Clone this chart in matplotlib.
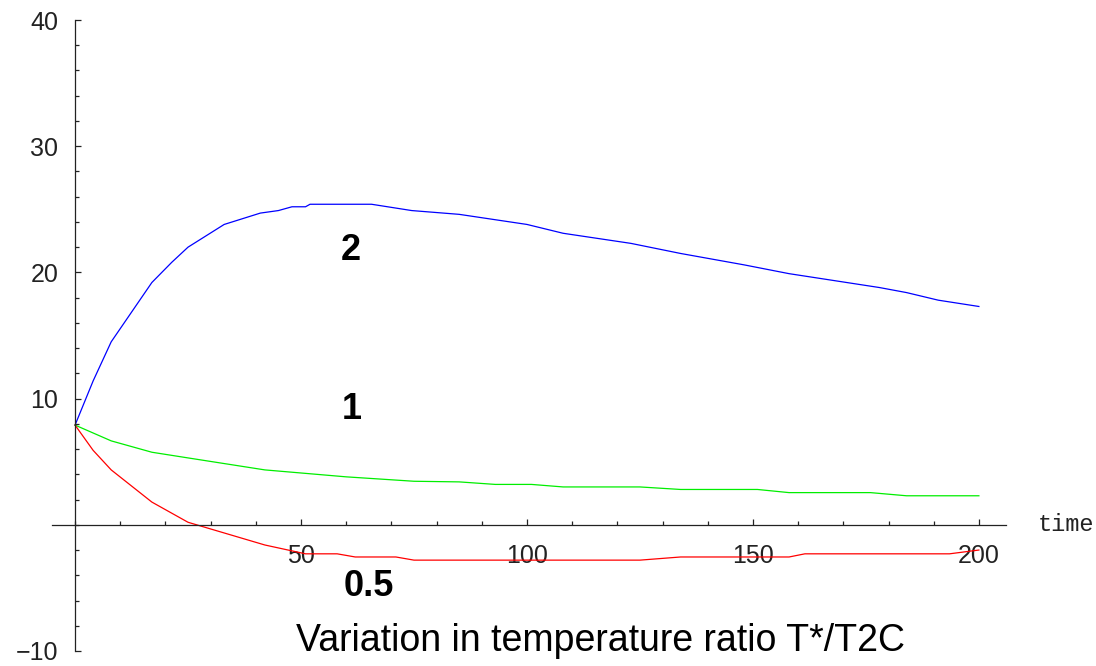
import matplotlib
matplotlib.use("Agg")
import matplotlib.pyplot as plt
from matplotlib.ticker import MultipleLocator, FixedLocator

# curve for T*/T2C = 2
t_2 = [0, 4, 8, 17, 21.4, 25, 33, 41, 45, 48, 51, 52, 65.6, 74.5, 85, 100, 108, 123, 134, 148, 158, 178, 184, 191, 200]
v_2 = [7.9, 11.4, 14.5, 19.2, 20.8, 22.0, 23.8, 24.7, 24.9, 25.2, 25.2, 25.4, 25.4, 24.9, 24.6, 23.8, 23.1, 22.3, 21.5, 20.6, 19.9, 18.8, 18.4, 17.8, 17.3]

# curve for T*/T2C = 1
t_1 = [0, 8, 17, 25, 42, 60, 75, 85, 93, 101, 108, 125, 134, 151, 158, 176, 184, 200]
v_1 = [7.9, 6.65, 5.75, 5.3, 4.35, 3.8, 3.45, 3.4, 3.2, 3.2, 3.0, 3.0, 2.8, 2.8, 2.55, 2.55, 2.3, 2.3]

# curve for T*/T2C = 0.5
t_05 = [0, 4, 8, 17, 25, 42, 51, 58, 62, 71, 75, 125, 134, 158, 161.5, 193.5, 200]
v_05 = [7.9, 5.9, 4.35, 1.8, 0.2, -1.6, -2.3, -2.3, -2.55, -2.55, -2.8, -2.8, -2.55, -2.55, -2.3, -2.3, -2.0]

curve_labels = ["2", "1", "0.5"]
label_pos = [(61.1, 21.7), (61.3, 9.1), (65.1, -4.9)]

fig = plt.figure(figsize=(10.96, 6.66), dpi=100)
ax = fig.add_axes([52 / 1096, 15 / 666, 954 / 1096, 631 / 666])

ax.plot(t_2, v_2, color="#0000ff", lw=0.9)
ax.plot(t_1, v_1, color="#00ee00", lw=0.9)
ax.plot(t_05, v_05, color="#ff0000", lw=0.9)

for txt, (x, y) in zip(curve_labels, label_pos):
    ax.text(x, y, txt, fontsize=26, fontweight="bold", family="Liberation Sans",
            ha="center", va="center")

ax.set_xlim(-5.1, 206)
ax.set_ylim(-10, 40)

for s in ["top", "right"]:
    ax.spines[s].set_visible(False)
ax.spines["left"].set_position(("data", 0))
ax.spines["bottom"].set_position(("data", 0))
for s in ["left", "bottom"]:
    ax.spines[s].set_color("#222222")
    ax.spines[s].set_linewidth(0.9)

ax.xaxis.set_major_locator(FixedLocator([50, 100, 150, 200]))
ax.xaxis.set_minor_locator(MultipleLocator(10))
ax.yaxis.set_major_locator(FixedLocator([-10, 10, 20, 30, 40]))
ax.yaxis.set_minor_locator(MultipleLocator(2))

ax.tick_params(which="both", direction="in", color="#222222", width=0.9)
ax.tick_params(which="major", length=4.5, labelsize=18)
ax.tick_params(which="minor", length=2.8)
ax.tick_params(axis="x", pad=14)
ax.tick_params(axis="y", pad=12)
for lab in ax.get_xticklabels() + ax.get_yticklabels():
    lab.set_family("Liberation Sans")
    lab.set_color("#222222")

ax.text(213, 0, "time", family="Liberation Mono", fontsize=17, ha="left", va="center",
        color="#222222")

fig.text(601 / 1096, 1 - 641 / 666, "Variation in temperature ratio T*/T2C",
         family="Liberation Sans", fontsize=27, ha="center", va="center")

fig.savefig("out.png", dpi=100)
